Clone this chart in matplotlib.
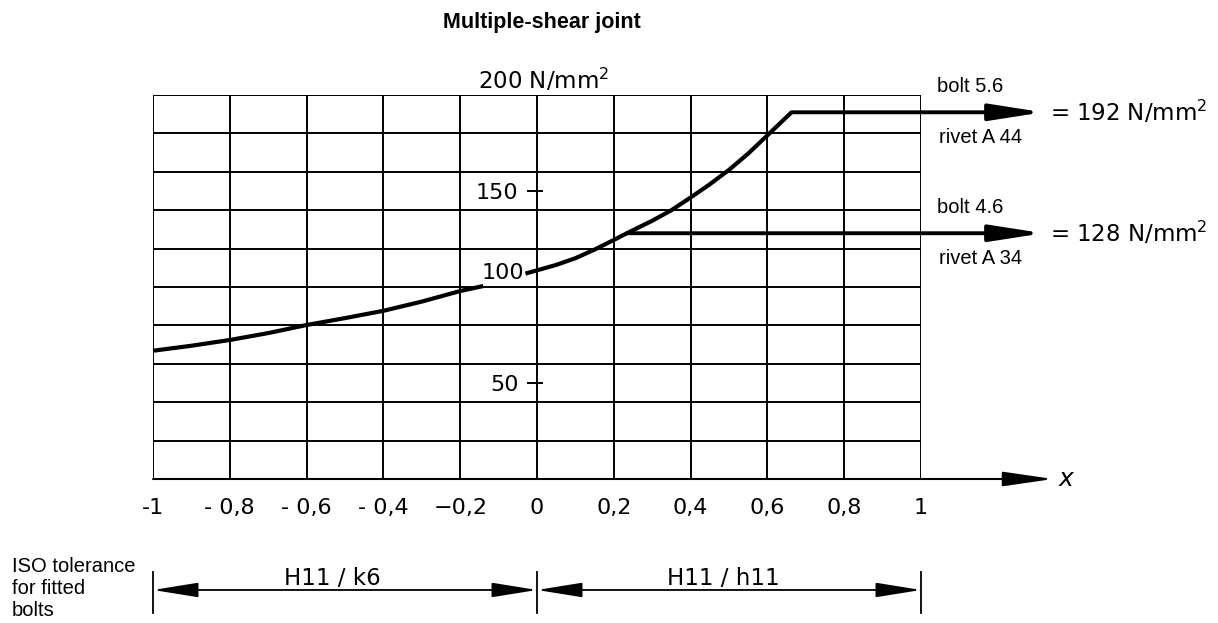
import numpy as np
import matplotlib
matplotlib.use('Agg')
import matplotlib.pyplot as plt

# curve (x, stress in N/mm2); gap at the "100" label
curve_left_x = [-1.0, -0.9, -0.8, -0.7, -0.6, -0.5, -0.4, -0.3, -0.2, -0.14]
curve_left_y = [66.8, 69.4, 72.4, 76.0, 80.2, 83.8, 87.6, 92.4, 97.9, 100.5]
curve_right_x = [-0.03, 0.05, 0.1, 0.15, 0.2, 0.234, 0.3, 0.35, 0.4, 0.45, 0.5, 0.55, 0.6, 0.663]
curve_right_y = [107.0, 111.5, 115.0, 119.5, 124.5, 128.0, 134.5, 140.0, 146.6, 153.5, 161.0, 169.5, 179.0, 191.0]

# limit levels: (start x, level, upper label, lower label, value text)
levels_x0 = [0.663, 0.234]
levels_y = [191.0, 128.0]
level_top_labels = ['bolt 5.6', 'bolt 4.6']
level_bottom_labels = ['rivet A 44', 'rivet A 34']
level_values = ['= 192 N/mm$^2$', '= 128 N/mm$^2$']

x_ticks = [-1, -0.8, -0.6, -0.4, -0.2, 0, 0.2, 0.4, 0.6, 0.8, 1]
x_tick_labels = ['-1', '- 0,8', '- 0,6', '- 0,4', '\u22120,2', '0', '0,2', '0,4', '0,6', '0,8', '1']
y_ticks = [50, 150]
y_tick_labels = ['50', '150']

tol_bounds = [-1, 0, 1]
tol_labels = ['H11 / k6', 'H11 / h11']
tol_label_x = [-0.534, 0.484]

NUM_FONT = ['DejaVu Sans']
TXT_FONT = ['Liberation Sans', 'DejaVu Sans']

fig = plt.figure(figsize=(12.18, 6.23), dpi=100)
ax = fig.add_axes([153 / 1218, 1 - 479 / 623, 768 / 1218, 384 / 623])
ax.set_xlim(-1, 1)
ax.set_ylim(0, 200)
ax.axis('off')

# grid
for gx in x_ticks:
    ax.plot([gx, gx], [0, 200], color='k', lw=1.4, solid_capstyle='butt')
for gy in range(20, 201, 20):
    ax.plot([-1, 1], [gy, gy], color='k', lw=1.4, solid_capstyle='butt')

# x axis with arrow
ax.annotate('', xy=(1.344, 0), xytext=(-1, 0), annotation_clip=False,
            arrowprops=dict(arrowstyle='-|>,head_length=3.1,head_width=0.45', mutation_scale=10,
                            lw=1.5, color='k', shrinkA=0, shrinkB=0))
ax.text(1.38, 0, '$x$', fontsize=18, ha='center', va='center', clip_on=False)

# curve
ax.plot(curve_left_x, curve_left_y, color='k', lw=3, solid_capstyle='butt',
        solid_joinstyle='round', clip_on=False)
ax.plot(curve_right_x, curve_right_y, color='k', lw=3, solid_capstyle='butt',
        solid_joinstyle='round', clip_on=False)

# levels with arrows
for x0, ly, top, bot, val in zip(levels_x0, levels_y, level_top_labels, level_bottom_labels, level_values):
    ax.annotate('', xy=(1.318, ly), xytext=(x0, ly), annotation_clip=False,
                arrowprops=dict(arrowstyle='-|>,head_length=3.2,head_width=0.5', mutation_scale=10,
                                lw=2.8, color='k', shrinkA=0, shrinkB=0))
    ax.text(1.042, ly + 13.3, top, fontsize=14.5, family=TXT_FONT, ha='left', va='center', clip_on=False)
    ax.text(1.046, ly - 13.2, bot, fontsize=14.5, family=TXT_FONT, ha='left', va='center', clip_on=False)
    ax.text(1.336, ly, val, fontsize=16.5, family=NUM_FONT, ha='left', va='center', clip_on=False)

# y labels along x = 0
for yv, yl in zip(y_ticks, y_tick_labels):
    ax.plot([-0.023, 0.013], [yv, yv], color='k', lw=1.4)
    ax.text(-0.048, yv - 1, yl, fontsize=16, family=NUM_FONT, ha='right', va='center')
ax.text(-0.089, 107.3, '100', fontsize=16, family=NUM_FONT, ha='center', va='center')
ax.text(-0.154, 207.8, '200 N/mm$^2$', fontsize=16.5, family=NUM_FONT, ha='left', va='center', clip_on=False)

# x tick labels
for tx, tl in zip(x_ticks, x_tick_labels):
    ax.text(tx, -15.1, tl, fontsize=16, family=NUM_FONT, ha='center', va='center', clip_on=False)

# title
ax.text(0.013, 238, 'Multiple-shear joint', fontsize=15.5, fontweight='bold', family=TXT_FONT,
        ha='center', va='center', clip_on=False)

# tolerance dimension lines
for bx in tol_bounds:
    ax.plot([bx, bx], [-48.4, -69.8], color='k', lw=1.3, clip_on=False)
for (xa, xb), lab, lx in zip(zip(tol_bounds[:-1], tol_bounds[1:]), tol_labels, tol_label_x):
    ax.annotate('', xy=(xb, -57.8), xytext=(xa, -57.8), annotation_clip=False,
                arrowprops=dict(arrowstyle='<|-|>,head_length=2.8,head_width=0.45', mutation_scale=10,
                                lw=1.3, color='k', shrinkA=0, shrinkB=0))
    ax.text(lx, -51.6, lab, fontsize=16.5, family=NUM_FONT, ha='center', va='center', clip_on=False)

ax.text(-1.367, -40.5, 'ISO tolerance\nfor fitted\nbolts', fontsize=14.5, family=TXT_FONT,
        ha='left', va='top', linespacing=1.2, clip_on=False)

fig.savefig('out.png', dpi=100)
